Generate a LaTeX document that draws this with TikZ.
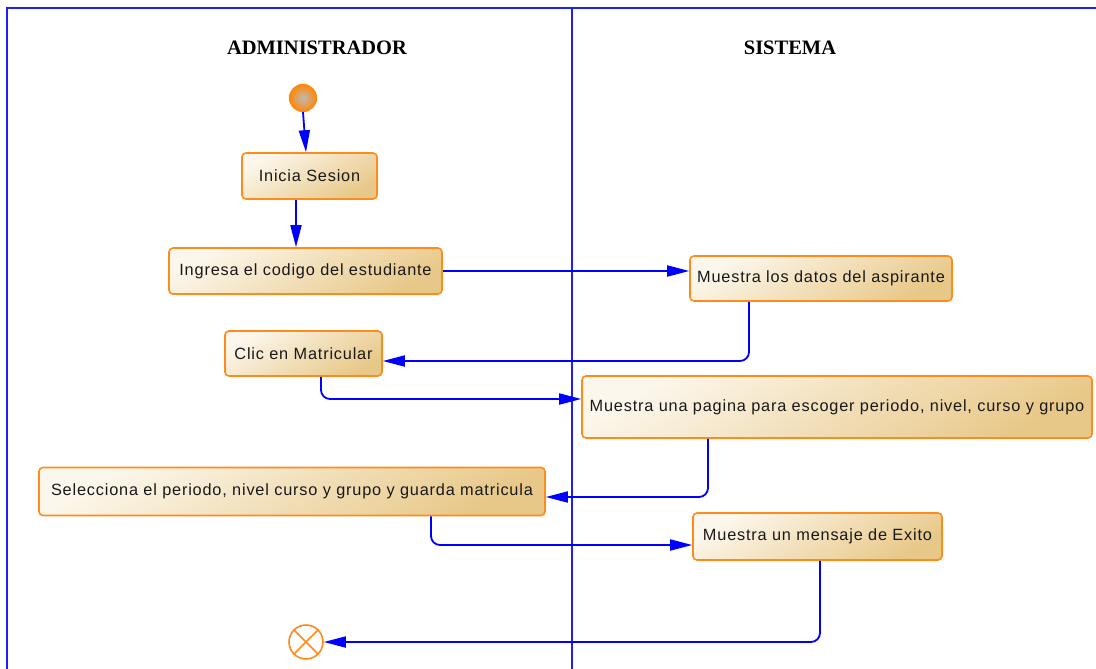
\documentclass[tikz,border=0pt]{standalone}
\usepackage{fontspec}
\setmainfont{Liberation Sans}
\newfontfamily\hdrfont{Liberation Serif}
\newfontfamily\boxfont[LetterSpace=5]{Liberation Sans}
\usetikzlibrary{arrows.meta}
\definecolor{lane}{RGB}{30,30,255}
\definecolor{conn}{RGB}{0,0,255}
\definecolor{boxline}{RGB}{255,140,26}
\definecolor{boxlight}{RGB}{252,247,236}
\definecolor{boxdark}{RGB}{232,200,136}
\definecolor{txt}{RGB}{25,25,25}
\definecolor{startin}{RGB}{190,186,182}
\definecolor{startout}{RGB}{255,135,10}
\tikzset{
  actbox/.style={rectangle, rounded corners=4pt, draw=boxline, line width=1.6pt,
    top color=boxlight, bottom color=boxdark, shading angle=30,
    inner sep=0pt, text=txt, font=\boxfont\fontsize{16.3}{19}\selectfont},
  hdr/.style={font=\hdrfont\bfseries\fontsize{20.5}{24}\selectfont, text=black},
  lanel/.style={draw=lane, line width=2pt},
  arr/.style={draw=conn, line width=1.8pt, rounded corners=9pt,
    -{Triangle[length=22pt,width=11pt]}},
}
\begin{document}
\begin{tikzpicture}[x=1pt,y=-1pt]
\useasboundingbox (0,0) rectangle (1096,669);
% frame
\draw[lanel] (7,669) -- (7,8) -- (1096,8);
\draw[lanel] (572,8) -- (572,669);
% headers
\node[hdr] (h1) at (317,48) {ADMINISTRADOR};
\node[hdr] (h2) at (790,48) {SISTEMA};
% start / end
\node[circle, draw=startout, line width=1.2pt, inner color=startin, outer color=startout,
  minimum size=27pt, inner sep=0pt] (st) at (303,98) {};
\node[circle, draw=boxline, line width=1.6pt, fill=white, minimum size=34pt, inner sep=0pt] (en) at (306,642) {};
\draw[boxline, line width=1.6pt] (en.45) -- (en.225) (en.135) -- (en.-45);
% activities
\node[actbox, minimum width=135pt, minimum height=46pt] (ini) at (309.5,176) {Inicia Sesion};
\node[actbox, minimum width=273pt, minimum height=46pt] (ing) at (305.5,271) {Ingresa el codigo del estudiante};
\node[actbox, minimum width=262pt, minimum height=45pt] (mdat) at (821,278.5) {Muestra los datos del aspirante};
\node[actbox, minimum width=157pt, minimum height=45pt] (clic) at (303.5,353.5) {Clic en Matricular};
\node[actbox, minimum width=510pt, minimum height=62pt] (mpag) at (837,407) {Muestra una pagina para escoger periodo, nivel, curso y grupo};
\node[actbox, minimum width=506pt, minimum height=48pt] (sel) at (292,491.5) {Selecciona el periodo, nivel curso y grupo y guarda matricula};
\node[actbox, minimum width=249pt, minimum height=47pt] (mmsg) at (817.5,536.5) {Muestra un mensaje de Exito};
% waypoints
\coordinate (w0) at (306,0);
\coordinate (w1) at (296,0);
\coordinate (w2) at (749,361);
\coordinate (w3) at (321,399);
\coordinate (w4) at (708,497);
\coordinate (w5) at (431,545);
\coordinate (w6) at (820,642);
% connectors
\draw[arr] (st.south) -- (ini.north -| w0);
\draw[arr] (ini.south -| w1) -- (ing.north -| w1);
\draw[arr] (ing.east) -- (ing.east -| mdat.west);
\draw[arr] (mdat.south -| w2) |- (clic.east |- w2);
\draw[arr] (clic.south -| w3) |- (mpag.west |- w3);
\draw[arr] (mpag.south -| w4) |- (sel.east |- w4);
\draw[arr] (sel.south -| w5) |- (mmsg.west |- w5);
\draw[arr] (mmsg.south -| w6) |- (en.east);
\end{tikzpicture}
\end{document}
